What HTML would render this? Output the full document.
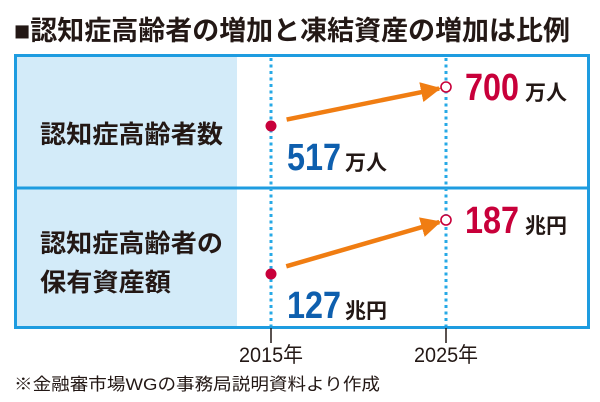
<!DOCTYPE html>
<html><head><meta charset="utf-8"><style>
html,body{margin:0;padding:0;background:#fff;}
svg{display:block;}
text{font-family:"Liberation Sans","Noto Sans CJK JP",sans-serif;}
.jp{font-family:"Liberation Sans","Noto Sans CJK JP",sans-serif;font-weight:bold;fill:#231815;}
.num{font-family:"Liberation Sans Narrow","Liberation Sans",sans-serif;font-weight:bold;}
</style></head><body>
<svg id="chart" width="600" height="402" viewBox="0 0 600 402">
<text x="14" y="40" font-size="27" class="jp" textLength="556" lengthAdjust="spacingAndGlyphs">■認知症高齢者の増加と凍結資産の増加は比例</text>
<rect x="17" y="57" width="220" height="270" fill="#d3ebf9"/>
<rect x="15.5" y="55.5" width="573" height="272" fill="none" stroke="#1e9ce0" stroke-width="3"/>
<line x1="15" y1="188" x2="589" y2="188" stroke="#1e9ce0" stroke-width="3"/>
<text x="40" y="143" font-size="25" class="jp" textLength="183" lengthAdjust="spacingAndGlyphs">認知症高齢者数</text>
<text x="40" y="252" font-size="25" class="jp" textLength="183" lengthAdjust="spacingAndGlyphs">認知症高齢者の</text>
<text x="40" y="291" font-size="25" class="jp" textLength="131" lengthAdjust="spacingAndGlyphs">保有資産額</text>
<g id="marks"></g>
<text x="14" y="390" font-size="17" fill="#231815" font-family="Liberation Serif,Noto Serif CJK SC,serif" textLength="366" lengthAdjust="spacingAndGlyphs">※金融審市場WGの事務局説明資料より作成</text>
</svg>
<script>
const years = ["2015年", "2025年"];
const rowNames = ["認知症高齢者数", "認知症高齢者の保有資産額"];
const row1Values = [517, 700];
const row2Values = [127, 187];
const row1Unit = "万人";
const row2Unit = "兆円";

const NS = "http://www.w3.org/2000/svg";
const g = document.getElementById("marks");
const svg = document.getElementById("chart");
function xScale(i){ return 271 + i * 175; }
function yRow1(v){ return 126 + (v - 517) * (87 - 126) / (700 - 517); }
function yRow2(v){ return 274 + (v - 127) * (220 - 274) / (187 - 127); }
function mk(tag, attrs, parent){
  const e = document.createElementNS(NS, tag);
  for (const k in attrs) e.setAttribute(k, attrs[k]);
  (parent || g).appendChild(e);
  return e;
}
const defs = mk("defs", {}, svg);
const m = mk("marker", {id:"ah", viewBox:"0 0 10 10", refX:"9", refY:"5", markerWidth:"4.5", markerHeight:"4.5", orient:"auto", markerUnits:"strokeWidth"}, defs);
mk("path", {d:"M0,0 L10,5 L0,10 z", fill:"#f07d12"}, m);

years.forEach((y, i) => {
  const x = xScale(i);
  const l = mk("line", {x1:x, y1:58, x2:x, y2:326, stroke:"#27a9e6", "stroke-width":3, "stroke-dasharray":"3 3.5"});
  
  
  const t = mk("line", {x1:x, y1:328, x2:x, y2:343, stroke:"#231815", "stroke-width":1.5});
  
  
  const lb = mk("text", {x:x, y:362, "text-anchor":"middle", "font-size":"21", fill:"#231815", textLength:"64", lengthAdjust:"spacingAndGlyphs"});
  lb.textContent = y;
  
  
});

function drawRow(vals, yf, unit, prefix){
  const x0 = xScale(0), x1 = xScale(1);
  const y0 = yf(vals[0]), y1 = yf(vals[1]);
  const dx = x1 - x0, dy = y1 - y0, len = Math.hypot(dx, dy);
  const ux = dx/len, uy = dy/len;
  const a = mk("line", {x1:x0 + ux*16, y1:y0 + uy*16 - 3, x2:x1 - ux*7, y2:y1 - uy*7, stroke:"#f07d12", "stroke-width":4.5, "marker-end":"url(#ah)"});
  
  
  const d = mk("circle", {cx:x0, cy:y0, r:5.5, fill:"#c8003a"});
  
  
  const c = mk("circle", {cx:x1, cy:y1, r:5, fill:"#fff", stroke:"#c8003a", "stroke-width":1.6});
  
  
  const t0 = mk("text", {x:x0 + 16, y:y0 + 44, "font-size":"38", fill:"#0e5fae", class:"num", textLength:"54", lengthAdjust:"spacingAndGlyphs"});
  t0.textContent = vals[0];
  
  
  const u0 = mk("text", {x:x0 + 74, y:y0 + 44, "font-size":"21", class:"jp"});
  u0.textContent = unit;
  
  
  const t1 = mk("text", {x:x1 + 19, y:y1 + 13, "font-size":"38", fill:"#c8003a", class:"num", textLength:"54", lengthAdjust:"spacingAndGlyphs"});
  t1.textContent = vals[1];
  
  
  const u1 = mk("text", {x:x1 + 79, y:y1 + 13, "font-size":"21", class:"jp"});
  u1.textContent = unit;
  
  
}
drawRow(row1Values, yRow1, row1Unit, "dementia-count");
drawRow(row2Values, yRow2, row2Unit, "dementia-assets");
</script>
</body></html>
